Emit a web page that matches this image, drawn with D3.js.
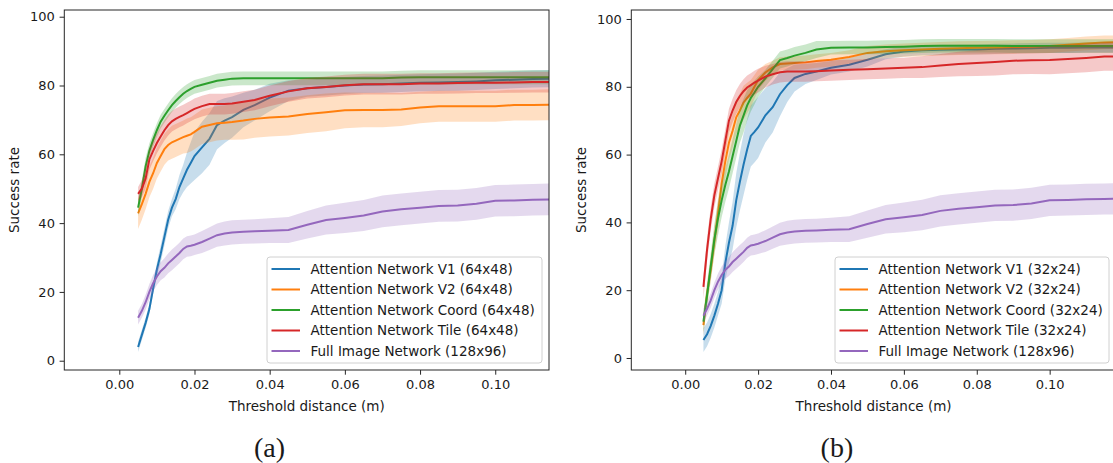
<!DOCTYPE html>
<html>
<head>
<meta charset="utf-8">
<script src="https://cdn.jsdelivr.net/npm/d3@7"></script>
<style>
  body { margin: 0; background: #fff; }
  text { font-family: "DejaVu Sans", sans-serif; fill: #1a1a1a; }
</style>
</head>
<body>
<svg id="fig" width="1113" height="463"></svg>
<script>
// threshold distances (m)
const xs = [0.005, 0.006, 0.007, 0.008, 0.009, 0.010, 0.011, 0.012, 0.013, 0.014,
            0.015, 0.016, 0.017, 0.018, 0.019, 0.020, 0.022, 0.024, 0.026, 0.028,
            0.030, 0.033, 0.036, 0.040, 0.045, 0.050, 0.055, 0.060, 0.065, 0.070,
            0.075, 0.080, 0.085, 0.090, 0.095, 0.100, 0.105, 0.110, 0.115, 0.120]

const seriesColors = ["#1f77b4", "#ff7f0e", "#2ca02c", "#d62728", "#9467bd"]
const leftNames = ["Attention Network V1 (64x48)", "Attention Network V2 (64x48)",
    "Attention Network Coord (64x48)", "Attention Network Tile (64x48)", "Full Image Network (128x96)"]
const rightNames = ["Attention Network V1 (32x24)", "Attention Network V2 (32x24)",
    "Attention Network Coord (32x24)", "Attention Network Tile (32x24)", "Full Image Network (128x96)"]
const xTicks = [0, 0.02, 0.04, 0.06, 0.08, 0.10]
const yTicks = [0, 20, 40, 60, 80, 100]

// (a) 64x48 inputs
const leftV1 = [4, 7.5, 11, 15, 21, 26.5, 31, 36, 41, 44.5, 47, 50.5, 53, 55.5, 57.5, 59.5, 62, 64.5, 68.5, 69.8,
    70.8, 72.9, 74.3, 76.5, 78.5, 79.2, 79.6, 80, 80.3, 80.4, 80.6, 80.8, 80.9, 81, 81.2, 81.5, 81.7, 81.9, 82, 82]
const leftV1Err = [1.5, 1.5, 1.5, 1.5, 1.5, 2, 2.5, 2.5, 2.5, 2.5, 3, 3.5, 4, 5, 6, 7, 7.5, 7.5, 7, 6.5,
    6, 5, 4.5, 4, 3, 2.5, 2.5, 2.5, 2.5, 2.5, 2.5, 2.5, 2.5, 2.5, 2.5, 2.5, 2.5, 2.5, 2.5, 2.5]
const leftV2 = [42.8, 45.5, 48.5, 52, 54.5, 57.5, 59.5, 61.5, 62.7, 63.5, 64, 64.5, 65, 65.4, 65.8, 66.5, 68, 68.5, 69, 69.2,
    69.4, 69.8, 70.3, 70.7, 71, 71.7, 72.2, 72.8, 72.9, 72.9, 73, 73.6, 74, 74, 74, 74, 74.3, 74.3, 74.4, 74.4]
const leftV2Err = [4.5, 4.5, 4.5, 4.5, 4.5, 4.5, 4.5, 4.5, 4.5, 4.8, 4.8, 4.8, 4.8, 5, 5, 5, 5, 5, 5, 5,
    5.2, 5.5, 5.5, 5.5, 5.5, 5.5, 5.5, 5.2, 5, 5, 4.8, 4.6, 4.5, 4.5, 4.5, 4.5, 4.5, 4.5, 4.5, 4.5]
const leftCoord = [44.5, 50, 56.5, 61, 64.2, 67, 69.5, 71.2, 72.8, 74.3, 75.5, 76.6, 77.6, 78.4, 79, 79.6, 80.2, 80.8, 81.4, 81.7,
    82, 82.1, 82.1, 82.1, 82.1, 82.1, 82.1, 82.1, 82.1, 82.1, 82.3, 82.4, 82.4, 82.4, 82.4, 82.4, 82.4, 82.4, 82.4, 82.4]
const leftCoordErr = [2.5, 2.5, 2.5, 2.2, 2, 2, 2, 2, 2, 2, 2, 2, 2, 2, 2, 2, 2, 2, 2, 2,
    2, 2, 2, 2, 2, 2, 2, 2, 2, 2, 2, 2, 2, 2, 2, 2, 2, 2, 2, 2]
const leftTile = [48.5, 50, 53, 58.5, 61, 63.3, 65.2, 67, 68.5, 69.6, 70.3, 70.9, 71.4, 72, 72.6, 73.2, 74, 74.6, 74.6, 74.6,
    74.8, 75.3, 75.8, 77, 78.3, 79.2, 79.6, 80.1, 80.4, 80.4, 80.4, 80.6, 80.6, 80.7, 80.8, 80.8, 80.9, 81, 81, 81]
const leftTileErr = [2, 2.5, 3, 3, 3, 3, 3, 3, 3, 3, 3, 3, 3, 3, 3, 3, 3, 3, 3, 3,
    3, 3, 3, 3, 3, 3, 3, 3, 3, 3, 3, 3, 3, 3, 3, 3, 3, 3, 3, 3]

// full image network, same in both panels
const fullImage = [12.5, 14.5, 17, 20, 22.5, 24.5, 26, 27, 28.3, 29.3, 30.3, 31.3, 32.5, 33.2, 33.4, 33.7, 34.5, 35.5, 36.5, 37,
    37.3, 37.5, 37.6, 37.8, 38, 39.5, 40.9, 41.5, 42.2, 43.4, 44, 44.5, 45, 45.1, 45.6, 46.5, 46.6, 46.8, 46.9, 47]
const fullImageErr = [2, 2, 2.2, 2.3, 2.4, 2.5, 2.6, 2.8, 2.9, 3, 3, 3, 3, 3, 3, 3, 3.2, 3.3, 3.4, 3.5,
    3.5, 3.5, 3.5, 3.6, 3.8, 4, 4.2, 4.4, 4.5, 4.6, 4.6, 4.6, 4.6, 4.6, 4.6, 4.6, 4.6, 4.6, 4.6, 4.6]

// (b) 32x24 inputs
const rightV1 = [5.3, 7, 9.5, 12.5, 16, 20, 28, 34, 39, 46.5, 52, 57, 61.5, 65.5, 66.7, 68, 71.6, 74, 77.8, 80.5,
    82.6, 83.8, 84.5, 85.6, 86.5, 88, 89.6, 90.4, 90.8, 90.9, 91, 91, 91.2, 91.3, 91.4, 91.5, 91.5, 91.6, 91.6, 91.6]
const rightV1Err = [3.5, 3.5, 3.5, 3.5, 3.5, 4, 5, 6, 7, 8, 8.5, 9, 9, 9, 9, 9, 8, 7.5, 6.5, 5,
    4, 3, 2.5, 2, 2, 2, 1.5, 1.5, 1.5, 1.5, 1.5, 1.5, 1.5, 1.5, 1.5, 1.5, 1.5, 1.5, 1.5, 1.5]
const rightV2 = [9.7, 19, 26, 34.5, 42.5, 51.5, 58, 63.5, 67, 71, 73, 75.3, 76.7, 78, 80, 82, 84.2, 85.7, 86.7, 86.9,
    87, 87.2, 87.6, 88, 88.8, 90, 90.5, 90.8, 91, 91.2, 91.4, 91.5, 91.6, 91.7, 91.8, 92, 92.4, 92.8, 93.1, 93.2]
const rightV2Err = [3, 3, 3.5, 4, 4.5, 5, 5, 5, 5, 5, 5, 5, 4.5, 4, 3.5, 3, 2.5, 2, 2, 2,
    2, 2, 2, 2, 2, 2, 2, 2, 2, 2, 2, 2, 2, 2, 2, 2, 2, 2, 2, 2]
const rightCoord = [10.7, 18.5, 27, 35, 41.2, 46.5, 51, 55, 59.5, 64, 68.5, 71.5, 74.5, 76.7, 78.3, 80, 82.5, 85.2, 87.9, 88.5,
    89.2, 90, 91, 91.5, 91.6, 91.6, 91.7, 91.8, 92, 92.1, 92.1, 92.1, 92.1, 92, 92, 92, 92, 92, 92, 92]
const rightCoordErr = [3, 3.5, 4, 4.5, 5, 5, 5, 5, 5, 5, 5, 5, 4.5, 4, 3.5, 3, 2.5, 2.5, 2.5, 2.5,
    2.5, 2.5, 2.5, 2, 2, 2, 2, 2, 2, 2, 2, 2, 2, 2, 2, 2, 2, 2, 2, 2]
const rightTile = [21, 32, 41, 48, 53, 58, 64, 70, 73, 75.5, 77.3, 78.7, 79.8, 80.5, 81.2, 81.8, 83, 83.7, 84.3, 84.5,
    84.5, 84.5, 84.6, 84.8, 85, 85.2, 85.4, 85.6, 85.8, 86.3, 86.7, 87, 87.3, 87.7, 87.8, 87.9, 88.2, 88.5, 88.9, 89]
const rightTileErr = [3.5, 3.5, 3.5, 3.5, 3.5, 3.5, 3.5, 3.5, 3.5, 3.5, 3.5, 3.5, 3.5, 3.5, 3.5, 3.5, 3.2, 3, 3, 3,
    3, 3, 3, 3, 3, 3, 3, 3, 3.2, 3.4, 3.6, 3.8, 4, 4, 4, 4.2, 4.2, 4.2, 4.2, 4.2]

const svg = d3.select("#fig")

function drawPanel(p) {
    const g = svg.append("g")
    const x = d3.scaleLinear().domain(p.xDomain).range([p.left, p.right])
    const y = d3.scaleLinear().domain(p.yDomain).range([p.bottom, p.top])

    g.append("clipPath").attr("id", p.id + "_clip")
        .append("rect")
            .attr("x", p.left).attr("y", p.top)
            .attr("width", p.right - p.left).attr("height", p.bottom - p.top)

    const plot = g.append("g").attr("clip-path", `url(#${p.id}_clip)`)

    p.series.forEach((s, k) => {
        const pts = xs.map((xv, i) => ({x: xv, m: s.mean[i], e: s.err[i]}))
        plot.append("path")
            .datum(pts)
            .attr("d", d3.area()
                .x(d => x(d.x))
                .y0(d => y(d.m - d.e))
                .y1(d => y(d.m + d.e)))
            .style("fill", seriesColors[k])
            .style("opacity", 0.25)
        plot.append("path")
            .datum(pts)
            .attr("d", d3.line().x(d => x(d.x)).y(d => y(d.m)))
            .style("fill", "none")
            .style("stroke", seriesColors[k])
            .style("stroke-width", 2)
    })

    // axes
    const xAxis = g.append("g")
        .attr("transform", `translate(0, ${p.bottom})`)
        .call(d3.axisBottom(x).tickValues(xTicks).tickFormat(d3.format(".2f"))
            .tickSize(4.7).tickPadding(5.5))
    const yAxis = g.append("g")
        .attr("transform", `translate(${p.left}, 0)`)
        .call(d3.axisLeft(y).tickValues(yTicks).tickSize(4.7).tickPadding(4.7))
    ;[xAxis, yAxis].forEach(a => {
        a.select(".domain").remove()
        a.selectAll("line").style("stroke", "#262626").style("stroke-width", 1)
        a.selectAll("text").style("font-size", "13px").style("font-family", "DejaVu Sans").style("fill", "#1a1a1a")
    })

    g.append("rect")
        .attr("x", p.left).attr("y", p.top)
        .attr("width", p.right - p.left).attr("height", p.bottom - p.top)
        .style("fill", "none").style("stroke", "#262626").style("stroke-width", 1)

    g.append("text")
        .attr("x", p.xLabelX).attr("y", 410.5)
        .attr("text-anchor", "middle")
        .style("font-size", "13.5px")
        .text("Threshold distance (m)")
    g.append("text")
        .attr("transform", `translate(${p.yLabelX}, 190) rotate(-90)`)
        .attr("text-anchor", "middle")
        .style("font-size", "13.5px")
        .text("Success rate")

    // legend
    const lx = p.right - 7 - p.legendW, ly = p.bottom - 7 - 106
    const leg = g.append("g").attr("transform", `translate(${lx}, ${ly})`)
    leg.append("rect")
        .attr("width", p.legendW).attr("height", 106).attr("rx", 3)
        .style("fill", "#fff").style("fill-opacity", 0.8)
        .style("stroke", "#d0d0d0").style("stroke-width", 1)
    p.names.forEach((name, k) => {
        const ry = 12 + k * 20.5
        leg.append("line")
            .attr("x1", 4.5).attr("x2", 33).attr("y1", ry).attr("y2", ry)
            .style("stroke", seriesColors[k]).style("stroke-width", 2)
        leg.append("text")
            .attr("x", 43.5).attr("y", ry).attr("dy", "0.35em")
            .style("font-size", "13.5px")
            .text(name)
    })

    svg.append("text")
        .attr("x", p.captionX).attr("y", 456.5)
        .attr("text-anchor", "middle")
        .style("font-family", "'Liberation Serif', 'DejaVu Serif', serif")
        .style("font-size", "28px")
        .text(p.caption)
}

drawPanel({
    id: "a", left: 64.3, right: 549, top: 10, bottom: 370,
    xDomain: [-0.01463, 0.1143], yDomain: [-2.70, 101.95],
    legendW: 275, xLabelX: 306.7, yLabelX: 19, captionX: 269.6, caption: "(a)",
    names: leftNames,
    series: [
        {mean: leftV1, err: leftV1Err},
        {mean: leftV2, err: leftV2Err},
        {mean: leftCoord, err: leftCoordErr},
        {mean: leftTile, err: leftTileErr},
        {mean: fullImage, err: fullImageErr}
    ]
})

drawPanel({
    id: "b", left: 631.3, right: 1116, top: 10, bottom: 370,
    xDomain: [-0.01479, 0.1182], yDomain: [-3.54, 102.65],
    legendW: 274, xLabelX: 873.6, yLabelX: 586, captionX: 836.9, caption: "(b)",
    names: rightNames,
    series: [
        {mean: rightV1, err: rightV1Err},
        {mean: rightV2, err: rightV2Err},
        {mean: rightCoord, err: rightCoordErr},
        {mean: rightTile, err: rightTileErr},
        {mean: fullImage, err: fullImageErr}
    ]
})
</script>
</body>
</html>
